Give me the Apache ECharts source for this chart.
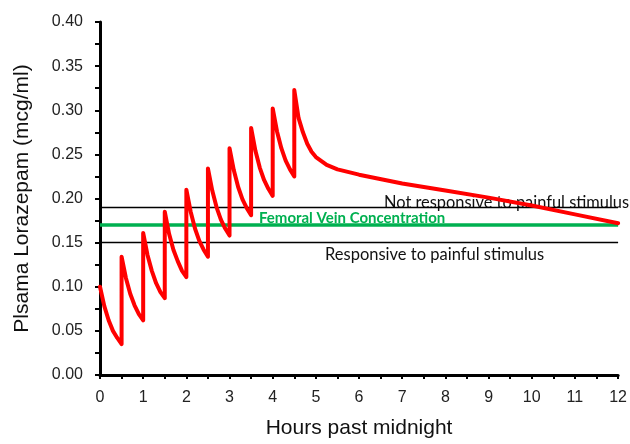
<!DOCTYPE html>
<html>
<head>
<meta charset="utf-8">
<script src="https://cdn.jsdelivr.net/npm/echarts@6/dist/echarts.min.js"></script>
<style>
  html, body { margin: 0; padding: 0; background: #fff; }
  #chart { width: 630px; height: 444px; }
</style>
</head>
<body>
<div id="chart"></div>
<script>
// hours after midnight, repeated x at each dose = vertical jump
const hours = [
  0, 0.1, 0.2, 0.3, 0.4, 0.5,
  0.5, 0.6, 0.7, 0.8, 0.9, 1.0,
  1.0, 1.1, 1.2, 1.3, 1.4, 1.5,
  1.5, 1.6, 1.7, 1.8, 1.9, 2.0,
  2.0, 2.1, 2.2, 2.3, 2.4, 2.5,
  2.5, 2.6, 2.7, 2.8, 2.9, 3.0,
  3.0, 3.1, 3.2, 3.3, 3.4, 3.5,
  3.5, 3.6, 3.7, 3.8, 3.9, 4.0,
  4.0, 4.1, 4.2, 4.3, 4.4, 4.5,
  4.5, 4.6, 4.7, 4.8, 4.9, 5.0, 5.25, 5.5, 6, 7, 8, 9, 10, 11, 12
]
const conc = [
  0.100, 0.078, 0.062, 0.050, 0.042, 0.035,
  0.134, 0.110, 0.092, 0.079, 0.069, 0.062,
  0.161, 0.136, 0.118, 0.104, 0.094, 0.087,
  0.185, 0.160, 0.142, 0.129, 0.118, 0.111,
  0.210, 0.185, 0.166, 0.152, 0.142, 0.134,
  0.234, 0.209, 0.190, 0.176, 0.166, 0.158,
  0.257, 0.232, 0.213, 0.199, 0.189, 0.181,
  0.280, 0.254, 0.235, 0.221, 0.211, 0.203,
  0.302, 0.276, 0.257, 0.243, 0.233, 0.225,
  0.323, 0.291, 0.275, 0.262, 0.253, 0.247, 0.238, 0.233, 0.227, 0.217, 0.209, 0.201, 0.192, 0.182, 0.172
]

// reference levels
const notResponsiveLevel = 0.188
const femoralLevel = 0.170
const responsiveLevel = 0.1525

const chart = echarts.init(document.getElementById('chart'))

const lineData = hours.map((h, i) => [h, conc[i]])

chart.setOption({
  animation: false,
  backgroundColor: '#fff',
  grid: { left: 100, right: 10, top: 22, bottom: 60 },
  xAxis: {
    type: 'value',
    min: 0,
    max: 12,
    interval: 1,
    name: 'Hours past midnight',
    nameLocation: 'middle',
    nameGap: 43,
    nameTextStyle: { fontFamily: 'Liberation Sans', fontSize: 21, color: '#111', verticalAlign: 'top' },
    axisLine: { onZero: false, lineStyle: { color: '#000', width: 3 } },
    axisTick: { inside: false, length: 4, lineStyle: { color: '#000', width: 2 } },
    minorTick: { show: true, splitNumber: 2, length: 4, lineStyle: { color: '#000', width: 2 } },
    axisLabel: { fontFamily: 'Liberation Sans', fontSize: 16, color: '#222', margin: 15 },
    splitLine: { show: false }
  },
  yAxis: {
    type: 'value',
    min: 0,
    max: 0.4,
    interval: 0.05,
    name: 'Plsama Lorazepam (mcg/ml)',
    nameLocation: 'middle',
    nameGap: 67,
    nameTextStyle: { fontFamily: 'Liberation Sans', fontSize: 21, color: '#111' },
    axisLine: { show: true, lineStyle: { color: '#000', width: 3 } },
    axisTick: { show: true, inside: false, length: 5, lineStyle: { color: '#000', width: 2 } },
    minorTick: { show: true, splitNumber: 2, length: 5, lineStyle: { color: '#000', width: 2 } },
    axisLabel: {
      fontFamily: 'Liberation Sans', fontSize: 16, color: '#222', margin: 17,
      formatter: v => v.toFixed(2)
    },
    splitLine: { show: false }
  },
  series: [
    {
      type: 'line',
      data: [],
      silent: true,
      z: 1,
      markLine: {
        silent: true,
        symbol: 'none',
        label: { show: false },
        data: [
          { yAxis: notResponsiveLevel, lineStyle: { color: '#000', width: 1.3, type: 'solid' } },
          { yAxis: responsiveLevel, lineStyle: { color: '#000', width: 1.3, type: 'solid' } },
          { yAxis: femoralLevel, lineStyle: { color: '#00b050', width: 3.5, type: 'solid' } }
        ]
      }
    },
    {
      type: 'line',
      data: lineData,
      showSymbol: false,
      z: 5,
      lineStyle: { color: '#ff0000', width: 4, join: 'round', cap: 'round' }
    }
  ],
  graphic: [
    {
      type: 'text', left: 384, top: 195, z: 2,
      style: { text: 'Not responsive to painful stimulus', font: '16.4px Lato', fill: '#111' }
    },
    {
      type: 'text', left: 259, top: 211, z: 2,
      style: { text: 'Femoral Vein Concentration', font: 'bold 15px Lato', fill: '#00b050' }
    },
    {
      type: 'text', left: 325, top: 246, z: 2,
      style: { text: 'Responsive to painful stimulus', font: '16.5px Lato', fill: '#111' }
    }
  ]
})
</script>
</body>
</html>
